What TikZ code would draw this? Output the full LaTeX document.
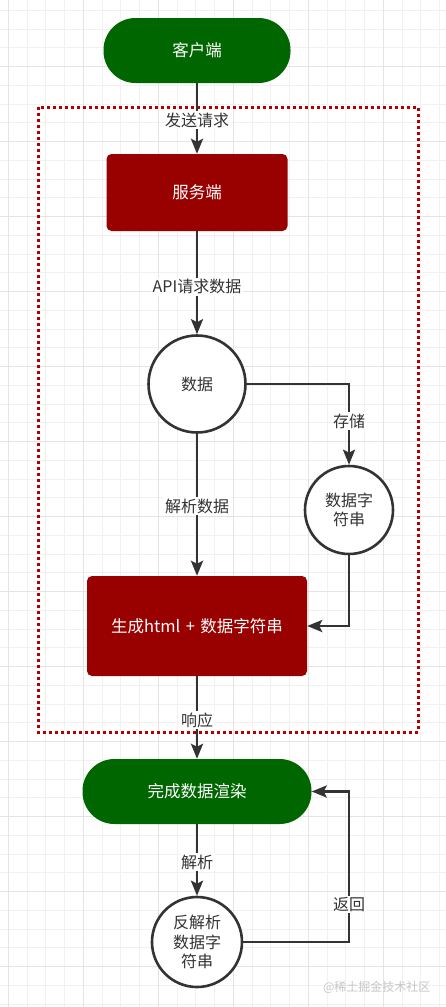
\documentclass[tikz,border=0pt]{standalone}
\usepackage{fontspec}
\setmainfont{Noto Sans CJK SC}
\usepackage{tikz}
\usetikzlibrary{arrows.meta, positioning}

\definecolor{flowgreen}{HTML}{006600}
\definecolor{flowred}{HTML}{990000}
\definecolor{dotred}{HTML}{B20000}
\definecolor{linegray}{HTML}{333333}
\definecolor{gridminor}{HTML}{F1F1F1}
\definecolor{gridmajor}{HTML}{E4E4E4}

\tikzset{
  pill/.style={draw=none, fill=flowgreen, text=white, rounded corners=32pt,
    minimum height=65pt, font=\fontsize{16.5}{19}\selectfont},
  serverbox/.style={draw=none, fill=flowred, text=white, rounded corners=5pt,
    font=\fontsize{16.5}{19}\selectfont},
  datacircle/.style={circle, draw=linegray, line width=2.6pt, fill=white, text=linegray,
    align=center, inner sep=0pt, font=\fontsize{16}{19.5}\selectfont},
  flow/.style={draw=linegray, line width=2.8pt, -{Stealth[length=15pt, width=12pt, inset=3pt]}},
  flowlabel/.style={fill=white, text=linegray, inner sep=1.5pt, font=\fontsize{16}{19}\selectfont},
}

\begin{document}
\begin{tikzpicture}[x=1pt, y=-1pt]
            \useasboundingbox (0,0) rectangle (446,1007);
            \fill[white] (0,0) rectangle (446,1007);

            % Grid
            \foreach \i in {0,...,23}
                \draw[gridminor, line width=1pt] ({8.33+18.75*\i},0) -- ({8.33+18.75*\i},1007);
            \foreach \i in {0,...,53}
                \draw[gridminor, line width=1pt] (0,{10.4+18.75*\i}) -- (446,{10.4+18.75*\i});
            \foreach \i in {0,...,5}
                \draw[gridmajor, line width=1pt] ({8.33+75*\i},0) -- ({8.33+75*\i},1007);
            \foreach \i in {0,...,12}
                \draw[gridmajor, line width=1pt] (0,{66.7+75*\i}) -- (446,{66.7+75*\i});

            % Server side frame
            \draw[dotred, line width=3pt, dash pattern=on 3pt off 3pt] (38,107) rectangle (418,732);

            % Nodes
            \node[pill, minimum width=187pt] (client) at (197,50.5) {客户端};
            \node[serverbox, minimum width=181pt, minimum height=77pt] (server) at (197,192.5) {服务端};
            \node[datacircle, minimum size=97pt] (data) at (197,384) {数据};
            \node[datacircle, minimum size=88pt] (datastr) at (349,510) {数据字\\符串};
            \node[serverbox, minimum width=220pt, minimum height=100pt] (render) at (197,626) {生成html\,\,+\,\,数据字符串};
            \node[pill, minimum width=229pt] (done) at (197,791.5) {完成数据渲染};
            \node[datacircle, minimum size=90pt] (parse) at (197,942) {反解析\\数据字\\符串};

            % Connectors
            \draw[flow] (client) -- node[flowlabel, pos=0.52] {发送请求} (server);
            \draw[flow] (server) -- node[flowlabel, pos=0.54] {API请求数据} (data);
            \draw[flow] (data.east) -| node[flowlabel, pos=0.73] {存储} (datastr.north);
            \draw[flow] (data) -- node[flowlabel, pos=0.51] {解析数据} (render);
            \draw[flow] (datastr.south) |- (render.east);
            \draw[flow] (render) -- node[flowlabel, pos=0.53] {响应} (done);
            \draw[flow] (done) -- node[flowlabel, pos=0.53] {解析} (parse);
            \draw[flow] (parse.east) -| node[flowlabel, pos=0.625] {返回} (datastr.center |- done.east) -- (done.east);

            % Watermark
            \node[text=black!22, font=\fontsize{12}{14}\selectfont, anchor=east] (mark) at (434,987) {@稀土掘金技术社区};
        \end{tikzpicture}
\end{document}
